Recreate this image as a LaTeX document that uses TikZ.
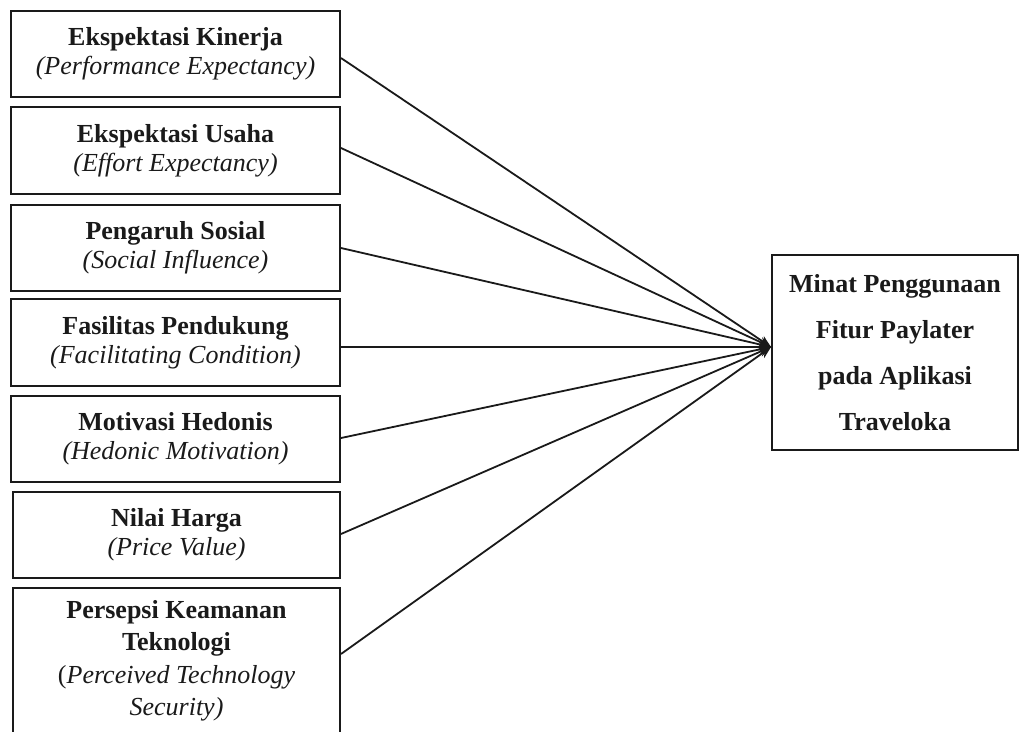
\documentclass[tikz,border=0pt]{standalone}
\usepackage{fontspec}
\setmainfont{Liberation Serif}
\usetikzlibrary{arrows.meta,calc}
\definecolor{ink}{HTML}{1A1A1A}
\tikzset{
  varbox/.style={draw=ink, line width=2pt, rectangle, anchor=north west,
    align=center, inner sep=0pt, text=ink,
    font=\fontsize{26}{29}\selectfont},
  link/.style={draw=ink, line width=1.8pt, -{Stealth[length=12pt,width=10pt]}},
}
\begin{document}
\begin{tikzpicture}[x=1pt,y=-1pt]
\useasboundingbox[fill=white] (0,0) rectangle (1019,731);

% independent variables
\node[varbox, minimum width=329pt, minimum height=86pt] (b1) at (10,10)
  {\textbf{Ekspektasi Kinerja}\\\textit{(Performance Expectancy)}};
\node[varbox, minimum width=329pt, minimum height=87pt] (b2) at (10,106)
  {\textbf{Ekspektasi Usaha}\\\textit{(Effort Expectancy)}};
\node[varbox, minimum width=329pt, minimum height=86pt] (b3) at (10,204)
  {\textbf{Pengaruh Sosial}\\\textit{(Social Influence)}};
\node[varbox, minimum width=329pt, minimum height=87pt] (b4) at (10,298)
  {\textbf{Fasilitas Pendukung}\\\textit{(Facilitating Condition)}};
\node[varbox, minimum width=329pt, minimum height=86pt] (b5) at (10,395)
  {\textbf{Motivasi Hedonis}\\\textit{(Hedonic Motivation)}};
\node[varbox, minimum width=327pt, minimum height=86pt] (b6) at (12,491)
  {\textbf{Nilai Harga}\\\textit{(Price Value)}};
\node[varbox, minimum width=327pt, minimum height=146pt,
  font=\fontsize{26}{32.5}\selectfont] (b7) at (12,587)
  {\textbf{Persepsi Keamanan}\\\textbf{Teknologi}\\(\textit{Perceived Technology}\\\textit{Security)}};

% dependent variable
\node[varbox, minimum width=246pt, minimum height=195pt,
  font=\fontsize{26}{46}\selectfont\bfseries] (y) at (771,254)
  {Minat Penggunaan\\Fitur Paylater\\pada Aplikasi\\Traveloka};

% paths
\draw[link] ($(b1.east)+(0,4)$) -- ($(y.west)+(0,-5.5)$);
\draw[link] ($(b2.east)+(0,-2.5)$) -- ($(y.west)+(0,-5.5)$);
\draw[link] (b3.east) -- ($(y.west)+(0,-5.5)$);
\draw[link] ($(b4.east)+(0,4.5)$) -- ($(y.west)+(0,-5.5)$);
\draw[link] ($(b5.east)+(0,-1)$) -- ($(y.west)+(0,-5.5)$);
\draw[link] ($(b6.east)+(0,-1)$) -- ($(y.west)+(0,-5.5)$);
\draw[link] ($(b7.east)+(0,-7)$) -- ($(y.west)+(0,-5.5)$);
\end{tikzpicture}
\end{document}
